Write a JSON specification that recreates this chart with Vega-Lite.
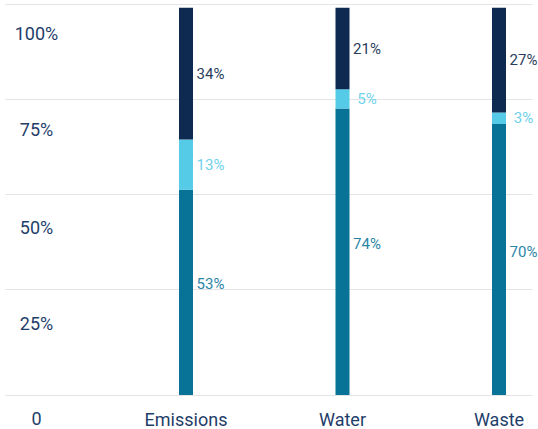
{
  "$schema": "https://vega.github.io/schema/vega-lite/v6.json",
  "width": 527,
  "height": 391,
  "autosize": "none",
  "padding": {"left": 5, "top": 4, "right": 6, "bottom": 34},
  "background": "white",
  "config": {
    "view": {"stroke": null},
    "font": "Roboto"
  },
  "data": {
    "values": [
      {"category": "Emissions", "level": 1, "value": 53},
      {"category": "Emissions", "level": 2, "value": 13},
      {"category": "Emissions", "level": 3, "value": 34},
      {"category": "Water", "level": 1, "value": 74},
      {"category": "Water", "level": 2, "value": 5},
      {"category": "Water", "level": 3, "value": 21},
      {"category": "Waste", "level": 1, "value": 70},
      {"category": "Waste", "level": 2, "value": 3},
      {"category": "Waste", "level": 3, "value": 27}
    ]
  },
  "transform": [
    {"stack": "value", "groupby": ["category"], "sort": [{"field": "level", "order": "ascending"}], "as": ["v0", "v1"]},
    {"calculate": "(datum.v0 + datum.v1) / 2", "as": "mid"},
    {"calculate": "datum.value + '%'", "as": "label"}
  ],
  "encoding": {
    "x": {
      "field": "category",
      "type": "nominal",
      "sort": ["Emissions", "Water", "Waste"],
      "scale": {"type": "band", "paddingInner": 0, "paddingOuter": 0.1837},
      "axis": {
        "title": null,
        "labelAngle": 0,
        "domain": false,
        "ticks": false,
        "grid": false,
        "labelFontSize": 18,
        "labelColor": "#1f3e6a",
        "labelPadding": 25,
        "labelBaseline": "middle",
        "labelOffset": 74
      }
    }
  },
  "layer": [
    {
      "mark": {"type": "bar", "width": 14, "xOffset": 74},
      "encoding": {
        "y": {
          "field": "v1",
          "type": "quantitative",
          "scale": {"domain": [0, 101], "nice": false, "zero": true},
          "axis": {
            "title": null,
            "values": [0, 27.4, 51.9, 76.5, 101],
            "labelExpr": "datum.value == 0 ? '0' : datum.value > 100 ? '100%' : datum.value > 70 ? '75%' : datum.value > 45 ? '50%' : '25%'",
            "domain": false,
            "ticks": false,
            "tickSize": 0,
            "grid": true,
            "gridColor": "#e4e4e4",
            "gridWidth": 1,
            "labelAlign": "center",
            "labelBaseline": "middle",
            "labelPadding": -31,
            "labelFontSize": 18,
            "labelColor": "#1f3e6a",
            "labelOffset": {
              "condition": [
                {"test": "datum.value == 0", "value": 24},
                {"test": "datum.value > 100", "value": 30},
                {"test": "datum.value > 70", "value": 32},
                {"test": "datum.value > 45", "value": 34}
              ],
              "value": 36
            }
          }
        },
        "y2": {"field": "v0"},
        "color": {
          "field": "level",
          "type": "nominal",
          "scale": {"domain": [1, 2, 3], "range": ["#087397", "#55cbe8", "#0e2a50"]},
          "legend": null
        }
      }
    },
    {
      "transform": [{"filter": "datum.level == 1"}],
      "mark": {"type": "text", "align": "center", "baseline": "middle", "xOffset": 74, "dx": 24.5, "dy": -8, "fontSize": 15},
      "encoding": {
        "y": {"field": "mid", "type": "quantitative"},
        "text": {"field": "label"},
        "color": {"value": "#2b86a8"}
      }
    },
    {
      "transform": [{"filter": "datum.level != 1"}],
      "mark": {"type": "text", "align": "center", "baseline": "middle", "xOffset": 74, "dx": 24.5, "fontSize": 15},
      "encoding": {
        "y": {"field": "mid", "type": "quantitative"},
        "text": {"field": "label"},
        "color": {
          "field": "level",
          "type": "nominal",
          "scale": {"domain": [2, 3], "range": ["#6fd2ec", "#2a3d5c"]},
          "legend": null
        }
      }
    }
  ],
  "resolve": {"scale": {"color": "independent"}}
}
